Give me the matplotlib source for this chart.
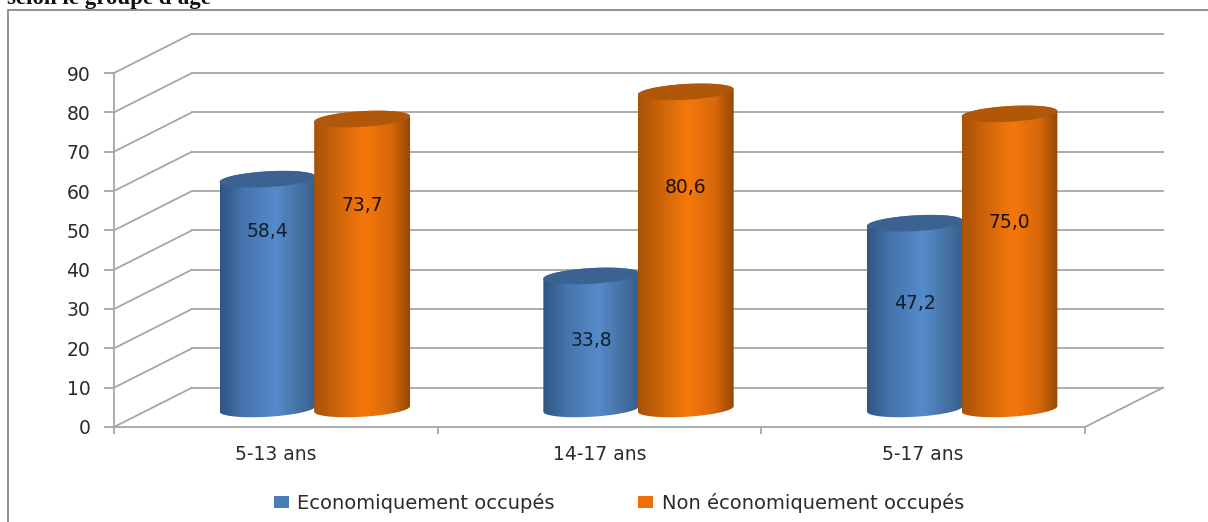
# grouped cylinders on a fake 3d wall
import numpy as np
import matplotlib
matplotlib.use('Agg')
import matplotlib.pyplot as plt
from matplotlib.colors import LinearSegmentedColormap
from matplotlib.lines import Line2D
from matplotlib.patches import Patch, PathPatch, Polygon
from matplotlib.path import Path

categories = ['5-13 ans', '14-17 ans', '5-17 ans']
series_names = ['Economiquement occupés', 'Non économiquement occupés']
occupes = [58.4, 33.8, 47.2]
non_occupes = [73.7, 80.6, 75.0]
value_labels = [['58,4', '33,8', '47,2'], ['73,7', '80,6', '75,0']]
label_heights = [[49.6, 22.1, 31.5], [56.4, 61.0, 52.1]]
y_ticks = [0, 10, 20, 30, 40, 50, 60, 70, 80, 90]

W, H = 1208, 522
GREY = '#a6a6a6'
TEXT = '#2b2b2b'
FS = 13.5
DEPTH_X = 0.241
DEPTH_Y = 10
BAR_HALF = 0.148
BAR_SHIFT = 0.146
FLOOR = 4.6
ELL_B = 2.0
ELL_TILT = 0.7

fig = plt.figure(figsize=(W / 100, H / 100), dpi=100)
ax = fig.add_axes([114 / W, 1 - 427 / H, 971 / W, 354 / H])


def cylinder(cx, value, colors, top_color, z):
    t = np.linspace(0, 2 * np.pi, 121)
    ex = cx + BAR_HALF * np.cos(t)
    ey = ELL_B * np.sin(t) + ELL_TILT * np.cos(t)
    low = t[:61] + np.pi
    high = t[:61]
    xs = np.r_[cx + BAR_HALF * np.cos(low), cx + BAR_HALF * np.cos(high)]
    ys = np.r_[FLOOR + ELL_B * np.sin(low) + ELL_TILT * np.cos(low),
               FLOOR + value + ELL_B * np.sin(high) + ELL_TILT * np.cos(high)]
    patch = PathPatch(Path(np.c_[xs, ys]), fc='none', ec='none', transform=ax.transData)
    ax.add_patch(patch)
    cmap = LinearSegmentedColormap.from_list('c', colors)
    im = ax.imshow(np.linspace(0, 1, 200)[None, :], cmap=cmap, aspect='auto',
                   extent=[cx - BAR_HALF, cx + BAR_HALF, 0, 90], zorder=z)
    im.set_clip_path(patch)
    ax.add_patch(Polygon(np.c_[ex, FLOOR + value + ey], fc=top_color, ec='none', zorder=z + 0.1))


blue_grad = [(0, '#2f5583'), (0.25, '#4675ad'), (0.58, '#568aca'), (0.85, '#43709f'), (1, '#365f8f')]
orange_grad = [(0, '#a85206'), (0.25, '#cf650a'), (0.52, '#f6780c'), (0.8, '#d9680a'), (1, '#974804')]

# walls and floor
for v in y_ticks:
    ax.plot([0, DEPTH_X], [v, v + DEPTH_Y], color=GREY, lw=1.3, clip_on=False, zorder=1)
    ax.plot([DEPTH_X, 3 + DEPTH_X], [v + DEPTH_Y, v + DEPTH_Y], color=GREY, lw=1.3, clip_on=False, zorder=1)
ax.plot([3, 3 + DEPTH_X], [0, DEPTH_Y], color=GREY, lw=1.3, clip_on=False, zorder=1)

for i in range(3):
    cx = i + 0.5 + DEPTH_X / 2
    cylinder(cx - BAR_SHIFT, occupes[i], blue_grad, '#3b6290', 3)
    cylinder(cx + BAR_SHIFT, non_occupes[i], orange_grad, '#b0570a', 4)
    ax.text(cx - BAR_SHIFT, label_heights[0][i], value_labels[0][i], ha='center', va='center',
            fontsize=FS, color='#10202c', zorder=6)
    ax.text(cx + BAR_SHIFT, label_heights[1][i], value_labels[1][i], ha='center', va='center',
            fontsize=FS, color='#1c1008', zorder=6)

ax.set_xlim(0, 3)
ax.set_ylim(0, 90)
ax.patch.set_alpha(0)
for s in ['top', 'right']:
    ax.spines[s].set_visible(False)
for s in ['left', 'bottom']:
    ax.spines[s].set_color(GREY)
    ax.spines[s].set_linewidth(1.3)
ax.set_yticks(y_ticks)
ax.set_xticks([0, 1, 2, 3])
ax.set_xticklabels([])
ax.set_xticks([0.5, 1.5, 2.5], categories, minor=True)
ax.tick_params(axis='x', which='major', length=5, width=1.3, color=GREY)
ax.tick_params(axis='x', which='minor', length=0, pad=13, labelsize=FS, labelcolor=TEXT)
ax.tick_params(axis='y', length=7, width=1.3, color=GREY, pad=10, labelsize=FS, labelcolor=TEXT)

# outer frame and clipped heading
fig.add_artist(Line2D([8 / W, 8 / W, 1], [0, 1 - 10 / H, 1 - 10 / H], color='#909090', lw=1.4))
fig.text(7 / W, 1 - 4 / H, "selon le groupe d'âge", family='Liberation Serif', weight='bold',
         fontsize=16.5, color='#111111', va='baseline')

handles = [Patch(fc='#4a7ebb', ec='none'), Patch(fc='#ee6f0a', ec='none')]
fig.legend(handles, series_names, loc='center', bbox_to_anchor=(619 / W, 1 - 503 / H), ncol=2,
           frameon=False, fontsize=14, labelcolor=TEXT, handlelength=0.75, handleheight=0.6,
           handletextpad=0.45, columnspacing=4.3)

fig.savefig('out.png', dpi=100)
